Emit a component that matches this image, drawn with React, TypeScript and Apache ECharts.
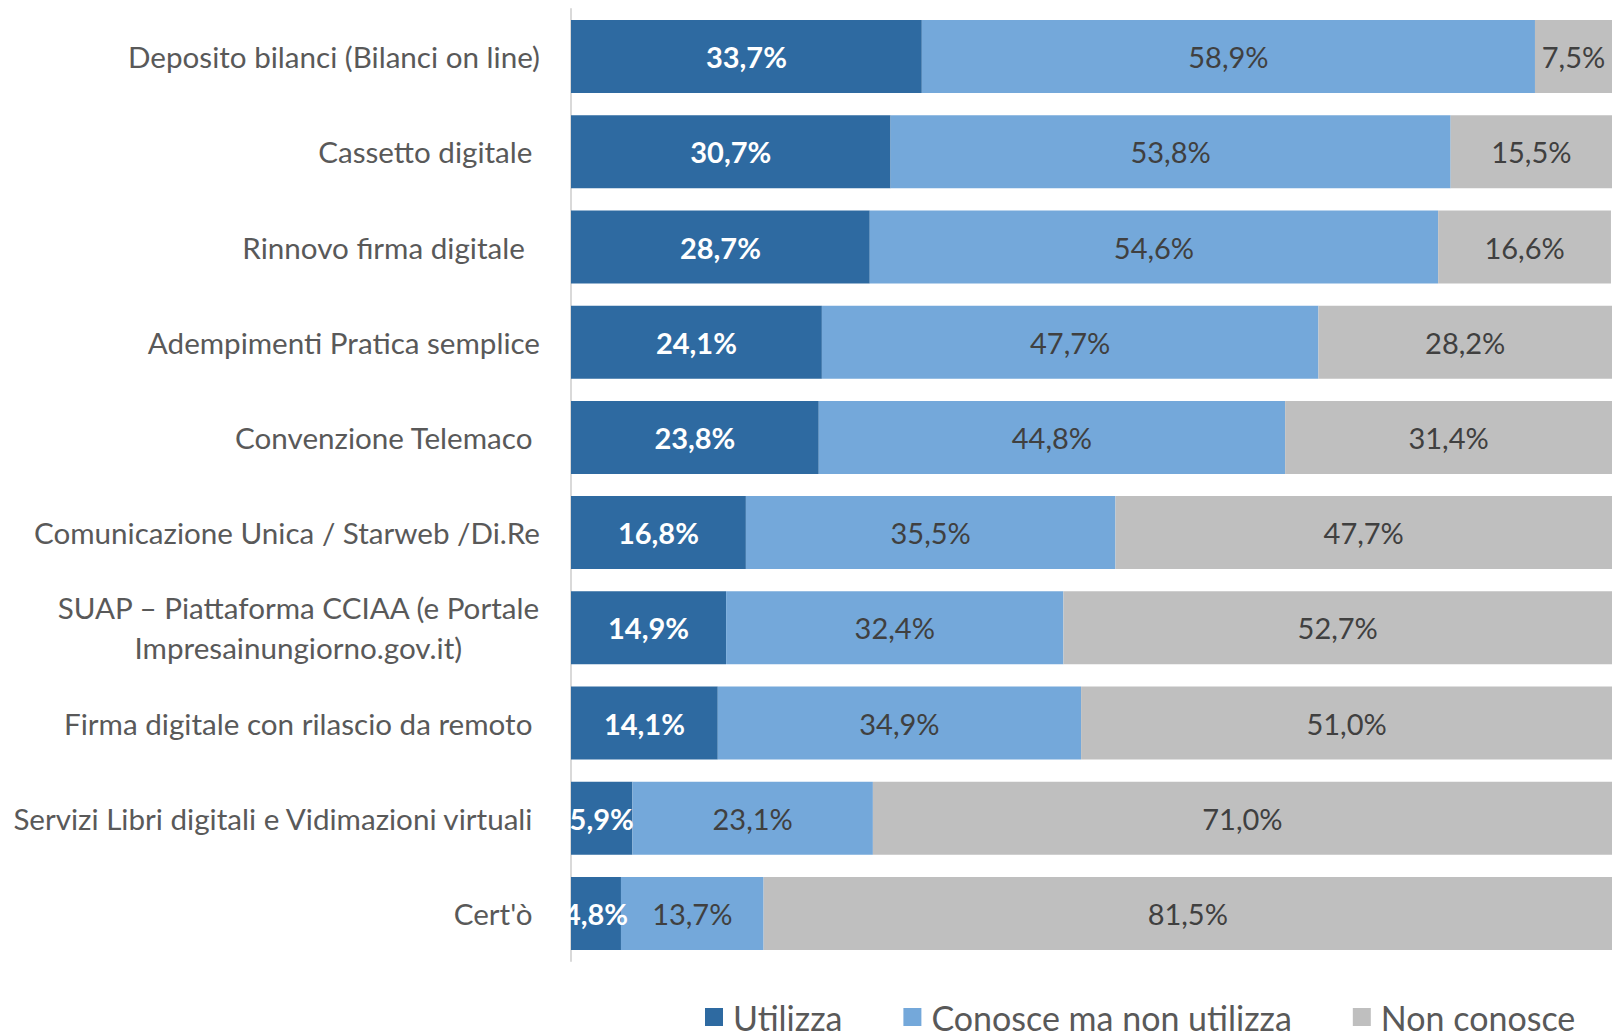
import React, { useEffect, useRef } from "react";
import * as echarts from "echarts";

const categories = [
  "Deposito bilanci (Bilanci on line)",
  "Cassetto digitale ",
  "Rinnovo firma digitale  ",
  "Adempimenti Pratica semplice",
  "Convenzione Telemaco ",
  "Comunicazione Unica / Starweb /Di.Re",
  "SUAP – Piattaforma CCIAA (e Portale\nImpresainungiorno.gov.it)",
  "Firma digitale con rilascio da remoto ",
  "Servizi Libri digitali e Vidimazioni virtuali ",
  "Cert'ò ",
];
const utilizza = [33.7, 30.7, 28.7, 24.1, 23.8, 16.8, 14.9, 14.1, 5.9, 4.8];
const conosce = [58.9, 53.8, 54.6, 47.7, 44.8, 35.5, 32.4, 34.9, 23.1, 13.7];
const nonConosce = [7.5, 15.5, 16.6, 28.2, 31.4, 47.7, 52.7, 51.0, 71.0, 81.5];
const seriesNames = ["Utilizza", "Conosce ma non utilizza", "Non conosce"];
const colors = ["#2E6AA1", "#74A8DA", "#BFBFBF"];

const FONT = "Lato";
const CAT_SIZE = 29.6;

function measure(text: string, size: number, weight = "normal"): number {
  const c = document.createElement("canvas");
  const ctx = c.getContext("2d");
  if (!ctx) return text.length * size * 0.45;
  ctx.font = `${weight} ${size}px ${FONT}`;
  return ctx.measureText(text).width;
}

const fmt = (v: number) => v.toFixed(1).replace(".", ",") + "%";

export default function App() {
  const ref = useRef<HTMLDivElement>(null);
  useEffect(() => {
    if (!ref.current) return;
    const chart = echarts.init(ref.current, undefined, { renderer: "svg" });
    const yData = categories.map((c) => {
      if (c.indexOf("\n") >= 0) {
        const w = Math.max(...c.split("\n").map((l) => measure(l, CAT_SIZE)));
        return { value: c, textStyle: { align: "center", padding: [0, w, 0, 0] } };
      }
      return c;
    });
    const mk = (name: string, data: number[], i: number) => ({
      name,
      type: "bar",
      stack: "total",
      data,
      barWidth: 73,
      itemStyle: { color: colors[i] },
      label: {
        show: true,
        position: "inside",
        formatter: (p: any) => fmt(p.value),
        color: i === 0 ? "#FFFFFF" : "#404040",
        fontWeight: i === 0 ? "bold" : "normal",
        fontSize: 29,
        fontFamily: FONT,
      },
    });
    chart.setOption({
      animation: false,
      textStyle: { fontFamily: FONT },
      grid: { left: 571, right: 0, top: 9, bottom: 72, containLabel: false },
      xAxis: {
        type: "value",
        min: 0,
        max: 100,
        show: false,
      },
      yAxis: {
        type: "category",
        inverse: true,
        data: yData,
        axisLine: { show: true, lineStyle: { color: "#D9D9D9", width: 2 } },
        axisTick: { show: false },
        axisLabel: {
          margin: 31,
          color: "#595959",
          fontSize: CAT_SIZE,
          fontFamily: FONT,
          lineHeight: 40,
        },
      },
      legend: {
        left: 700,
        top: 995,
        itemWidth: 18,
        itemHeight: 18,
        itemGap: 61,
        icon: "rect",
        textStyle: { fontSize: 34, color: "#595959", fontFamily: FONT, padding: [0, 0, 0, 5] },
        data: seriesNames,
      },
      series: [
        mk(seriesNames[0], utilizza, 0),
        mk(seriesNames[1], conosce, 1),
        mk(seriesNames[2], nonConosce, 2),
      ],
    });
    return () => chart.dispose();
  }, []);
  return (
    <div
      ref={ref}
      style={{ position: "fixed", left: 0, top: 0, width: 1612, height: 1033, background: "#fff" }}
    />
  );
}
